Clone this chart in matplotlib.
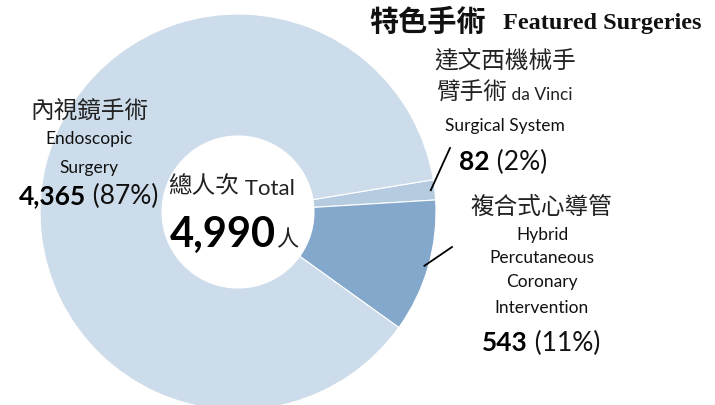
import matplotlib
matplotlib.use("Agg")
import matplotlib.pyplot as plt
import numpy as np

# data
labels = ["達文西機械手臂手術", "複合式心導管", "內視鏡手術"]
counts = [82, 543, 4365]
percents = ["2%", "11%", "87%"]
total = 4990
colors = ["#b4cbe0", "#84a7cc", "#cddcea"]

W, H = 715, 405
EN = ["Lato", "Noto Sans CJK TC"]
CJK = ["Noto Sans CJK TC", "Lato"]

fig = plt.figure(figsize=(W / 100, H / 100), dpi=100)
ax = fig.add_axes([0, 0, 1, 1])
renderer = fig.canvas.get_renderer()

cx, cy = 238, H - 212
R, r_in = 198, 76
wedges, _ = ax.pie(counts, colors=colors, startangle=9.4, counterclock=False,
                   radius=R, center=(cx, cy),
                   wedgeprops=dict(width=R - r_in, edgecolor="white", linewidth=0.8))
ax.set_xlim(0, W)
ax.set_ylim(0, H)
ax.set_aspect("equal")
ax.axis("off")


def y(py):
    return H - py


def txt(x, py, s, size, family=EN, weight="normal", color="#111111", ha="center"):
    return ax.text(x, y(py), s, fontsize=size, family=family, weight=weight,
                   color=color, ha=ha, va="center")


def run(x, py, parts, ha="left"):
    # parts: list of (text, size, family, weight, color, dy)
    objs = []
    for s, size, fam, wt, col, dy in parts:
        t = ax.text(0, y(py + dy), s, fontsize=size, family=fam, weight=wt,
                    color=col, ha="left", va="center")
        objs.append(t)
    widths = [t.get_window_extent(renderer).width for t in objs]
    x0 = x if ha == "left" else x - sum(widths) / 2
    for t, w in zip(objs, widths):
        t.set_x(x0)
        x0 += w


def num_pct(x, py, n, p, size, ha="left"):
    run(x, py, [(f"{n:,}", size, EN, "bold", "black", 0),
                (f" ({p})", size, EN, "normal", "#111111", 0)], ha=ha)


# leader lines from wedge middles
for w, end in zip(wedges[:2], [(450, 148), (452, 247)]):
    mid = np.deg2rad((w.theta1 + w.theta2) / 2)
    sx, sy = cx + 194 * np.cos(mid), cy + 194 * np.sin(mid)
    ax.plot([sx, end[0]], [sy, y(end[1])], color="black", lw=1.3)

# title
txt(369, 22, "特色手術", 21, family=CJK, weight="bold", ha="left")
ax.text(503, y(24), "Featured Surgeries", fontsize=17.5, family="Liberation Serif",
        weight="bold", color="#111111", ha="left", va="center")

# da Vinci
txt(505, 61, "達文西機械手", 17, family=CJK, color="#222222")
run(436, 93, [("臂手術", 17, CJK, "normal", "#222222", 0),
              (" da Vinci", 12.5, EN, "normal", "#222222", 2)])
txt(505, 126, "Surgical System", 12.5)
num_pct(459, 162, counts[0], percents[0], 19)

# hybrid
txt(541, 207, "複合式心導管", 17, family=CJK, color="#222222")
txt(542, 235, "Hybrid", 12.5)
txt(542, 258, "Percutaneous", 12.5)
txt(542, 282, "Coronary", 12.5)
txt(542, 308, "Intervention", 12.5)
num_pct(541, 343, counts[1], percents[1], 19, ha="center")

# endoscopic
txt(89, 112, "內視鏡手術", 17, family=CJK, color="#222222")
txt(89, 139, "Endoscopic", 12.5)
txt(89, 168, "Surgery", 12.5)
num_pct(89, 196, counts[2], percents[2], 19, ha="center")

# center
run(168, 187, [("總人次", 17, CJK, "normal", "#222222", 0),
               (" Total", 16, EN, "normal", "#222222", 2)])
run(170, 235, [(f"{total:,}", 30, EN, "bold", "black", 0),
               ("人", 16, CJK, "normal", "#222222", 5)])

fig.savefig("out.png", dpi=100)
